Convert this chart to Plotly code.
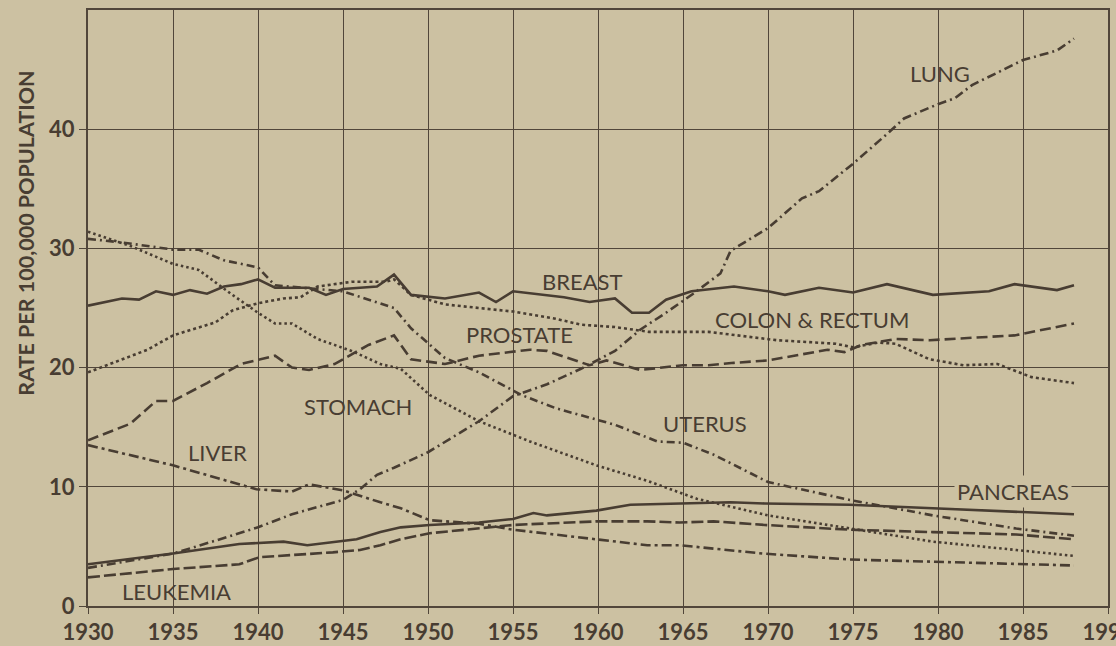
import plotly.graph_objects as go

# ---- data ----
lung_x = [1930, 1932, 1935, 1938, 1940, 1942, 1945, 1946, 1947, 1948, 1950, 1953, 1955, 1957, 1959, 1961,
          1962.5, 1964, 1965.6, 1967.2, 1967.8, 1970, 1972, 1973, 1975, 1977, 1978, 1980, 1981, 1982, 1985, 1987, 1988]
lung_y = [3.2, 3.7, 4.4, 5.7, 6.6, 7.7, 8.9, 9.8, 11.0, 11.6, 12.9, 15.5, 17.6, 18.6, 19.9, 21.4,
          23.2, 24.6, 26.2, 27.9, 29.8, 31.7, 34.2, 34.8, 37.1, 39.6, 40.9, 42.1, 42.6, 43.7, 45.8, 46.6, 47.6]

breast_x = [1930, 1932, 1933, 1934, 1935, 1936, 1937, 1938, 1939, 1940, 1941, 1943, 1944, 1945, 1947, 1948,
            1949, 1951, 1953, 1954, 1955, 1958, 1959.5, 1961, 1962, 1963, 1964, 1965.5, 1968, 1970, 1971,
            1973, 1975, 1977, 1979.7, 1983, 1984.5, 1987, 1988]
breast_y = [25.2, 25.8, 25.7, 26.4, 26.1, 26.5, 26.2, 26.8, 27.0, 27.4, 26.7, 26.7, 26.1, 26.6, 26.8, 27.8,
            26.1, 25.8, 26.3, 25.5, 26.4, 25.9, 25.5, 25.8, 24.6, 24.6, 25.7, 26.4, 26.8, 26.4, 26.1,
            26.7, 26.3, 27.0, 26.1, 26.4, 27.0, 26.5, 26.9]

colon_x = [1930, 1932.5, 1933.5, 1935, 1937.5, 1938.5, 1940, 1941.5, 1942.5, 1943.5, 1945.5, 1947.5, 1948,
           1949, 1951, 1955, 1957.5, 1959, 1961, 1963, 1966.5, 1970.5, 1974, 1975, 1976.5, 1977.5, 1979.5,
           1981.5, 1983.5, 1985.5, 1988]
colon_y = [19.6, 21.0, 21.5, 22.7, 23.8, 24.8, 25.4, 25.8, 25.9, 26.8, 27.2, 27.2, 27.4,
           26.1, 25.3, 24.7, 24.1, 23.6, 23.4, 23.0, 23.0, 22.3, 22.0, 21.7, 22.1, 22.0, 20.7,
           20.2, 20.3, 19.2, 18.7]

prostate_x = [1930, 1932.5, 1934, 1935, 1937, 1939, 1941, 1942, 1943, 1944.5, 1946.5, 1948, 1949, 1951, 1953,
              1956, 1957, 1959.5, 1960.5, 1962.5, 1965, 1966.5, 1968, 1970, 1973.5, 1974.5, 1975.5, 1977.5,
              1979.5, 1984.5, 1988]
prostate_y = [13.9, 15.3, 17.2, 17.2, 18.7, 20.3, 21.0, 20.0, 19.8, 20.3, 21.9, 22.7, 20.7, 20.3, 21.0,
              21.5, 21.4, 20.2, 20.6, 19.8, 20.2, 20.2, 20.4, 20.6, 21.5, 21.3, 21.9, 22.4,
              22.3, 22.7, 23.7]

stomach_x = [1930, 1932.5, 1935, 1936.5, 1938.5, 1940, 1941, 1942, 1943.5, 1945.5, 1947.2, 1948.4, 1950.1,
             1953, 1956, 1959.9, 1962.9, 1965.8, 1970, 1974.8, 1979.7, 1984.6, 1988]
stomach_y = [31.4, 30.2, 28.7, 28.2, 26.1, 24.6, 23.7, 23.7, 22.4, 21.4, 20.3, 19.9, 17.7,
             15.5, 13.8, 11.8, 10.5, 9.0, 7.6, 6.5, 5.4, 4.7, 4.2]

uterus_x = [1930, 1932, 1935, 1936.5, 1938, 1940, 1941, 1945, 1948, 1949, 1951, 1953, 1955.5, 1957.5, 1961,
            1963.5, 1965, 1966.8, 1970, 1974.8, 1979.7, 1984.6, 1988]
uterus_y = [30.8, 30.5, 29.9, 29.9, 29.0, 28.4, 26.9, 26.4, 25.0, 23.3, 20.8, 19.6, 17.7, 16.6, 15.2,
            13.8, 13.7, 12.7, 10.4, 8.9, 7.6, 6.5, 5.9]

liver_x = [1930, 1935, 1939.9, 1942, 1943, 1945, 1947.2, 1948.4, 1950.1, 1953, 1955, 1959.9, 1962.9, 1964.8,
           1969.7, 1974.8, 1979.7, 1988]
liver_y = [13.5, 11.8, 9.8, 9.6, 10.2, 9.7, 8.7, 8.2, 7.2, 6.9, 6.4, 5.6, 5.1, 5.1,
           4.4, 3.9, 3.7, 3.4]

leukemia_x = [1930, 1935, 1938.9, 1940.1, 1944.4, 1946, 1947.2, 1948.4, 1950.1, 1953, 1955, 1959.9, 1962.9,
              1964.8, 1966.8, 1969.8, 1974.8, 1979.7, 1984.6, 1988]
leukemia_y = [2.4, 3.1, 3.5, 4.1, 4.5, 4.7, 5.1, 5.6, 6.1, 6.5, 6.8, 7.1, 7.1,
              7.0, 7.1, 6.8, 6.4, 6.2, 6.0, 5.6]

pancreas_x = [1930, 1935, 1938.9, 1941.5, 1942.9, 1945.8, 1947.2, 1948.4, 1950.1, 1953, 1955, 1956.2, 1957,
              1959.9, 1961.9, 1964.8, 1967.8, 1969.8, 1974.8, 1979.7, 1988]
pancreas_y = [3.5, 4.4, 5.2, 5.4, 5.1, 5.6, 6.2, 6.6, 6.8, 7.0, 7.3, 7.8, 7.6,
              8.0, 8.5, 8.6, 8.7, 8.6, 8.5, 8.2, 7.7]

x_ticks = [1930, 1935, 1940, 1945, 1950, 1955, 1960, 1965, 1970, 1975, 1980, 1985, 1990]
x_tick_text = ["1930", "1935", "1940", "1945", "1950", "1955", "1960", "1965", "1970", "1975", "1980", "1985", "1990"]
y_ticks = [0, 10, 20, 30, 40]
y_tick_text = ["0", "10", "20", "30", "40"]

label_names = ["LUNG", "BREAST", "COLON & RECTUM", "PROSTATE", "STOMACH", "UTERUS", "LIVER", "PANCREAS", "LEUKEMIA"]
label_x = [1980.1, 1959.1, 1972.6, 1955.4, 1945.9, 1966.3, 1937.6, 1984.4, 1935.2]
label_y = [44.7, 27.2, 24.0, 22.8, 16.7, 15.3, 12.9, 9.6, 1.2]

# ---- styling ----
BG = "#ccc1a2"
INK = "#483d32"
GRID = "#51463a"
FONT = "Lato"

series = [
    (lung_x, lung_y, "9px,4px,2px,4px", "Lung"),
    (breast_x, breast_y, "solid", "Breast"),
    (colon_x, colon_y, "3px,3px", "Colon & Rectum"),
    (prostate_x, prostate_y, "11px,5px", "Prostate"),
    (stomach_x, stomach_y, "2.5px,3px", "Stomach"),
    (uterus_x, uterus_y, "8px,4px,2px,4px", "Uterus"),
    (liver_x, liver_y, "10px,4px,3px,4px", "Liver"),
    (leukemia_x, leukemia_y, "12px,4px", "Leukemia"),
    (pancreas_x, pancreas_y, "solid", "Pancreas"),
]

fig = go.Figure()
for xs, ys, dash, name in series:
    fig.add_trace(go.Scatter(x=xs, y=ys, mode="lines", name=name,
                             line=dict(color=INK, width=2.6, dash=dash),
                             showlegend=False, hoverinfo="skip"))

for name, lx, ly in zip(label_names, label_x, label_y):
    fig.add_annotation(x=lx, y=ly, text=name, showarrow=False,
                       font=dict(family=FONT, size=22, color=INK),
                       bgcolor=BG if name == "PANCREAS" else None,
                       borderpad=2)

fig.add_annotation(xref="paper", yref="paper", x=-0.061, y=0.626,
                   text="<b>RATE PER 100,000 POPULATION</b>", textangle=-90,
                   showarrow=False, xanchor="center", yanchor="middle",
                   font=dict(family=FONT, size=21.5, color=INK))

fig.update_layout(
    width=1116, height=646,
    margin=dict(l=88, r=8, t=10, b=40, autoexpand=False),
    paper_bgcolor=BG, plot_bgcolor=BG,
    xaxis=dict(range=[1930, 1990], tickmode="array", tickvals=x_ticks, ticktext=x_tick_text,
               showgrid=True, gridcolor=GRID, gridwidth=1.4,
               showline=True, linecolor=GRID, linewidth=2, mirror=True,
               ticks="outside", ticklen=6, tickcolor=GRID, tickwidth=1.4,
               ticklabeloverflow="allow", automargin=False,
               tickfont=dict(family=FONT, size=22, color=INK, weight="bold"),
               zeroline=False, fixedrange=True),
    yaxis=dict(range=[0, 50], tickmode="array", tickvals=y_ticks, ticktext=y_tick_text,
               showgrid=True, gridcolor=GRID, gridwidth=1.4,
               showline=True, linecolor=GRID, linewidth=2, mirror=True,
               ticks="outside", ticklen=7, tickcolor=GRID, tickwidth=1.4,
               automargin=False,
               tickfont=dict(family=FONT, size=22, color=INK, weight="bold"),
               zeroline=False, fixedrange=True),
)

fig.write_html("out.html", config={"displayModeBar": False},
               post_script="document.body.style.margin='0';document.body.style.overflow='hidden';"
                           "document.documentElement.style.background='" + BG + "';")
